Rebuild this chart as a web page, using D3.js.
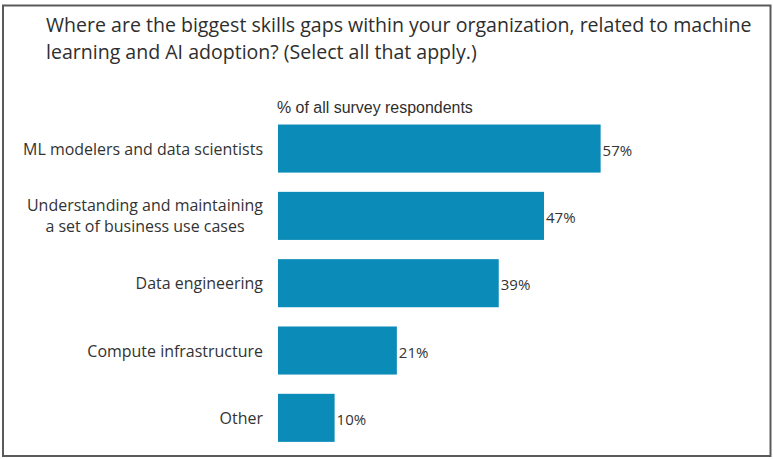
<!DOCTYPE html>
<html>
<head>
<meta charset="utf-8">
<script src="https://cdn.jsdelivr.net/npm/d3@7"></script>
<style>
  html, body { margin: 0; padding: 0; background: #fff; }
  svg { display: block; }
</style>
</head>
<body>
<svg id="chart" width="773" height="459"></svg>
<script>
// Survey results: skills gaps related to ML / AI adoption
const categories = [
  ["ML modelers and data scientists"],
  ["Understanding and maintaining", "a set of business use cases"],
  ["Data engineering"],
  ["Compute infrastructure"],
  ["Other"]
];
const values = [57, 47, 39, 21, 10];
const titleLines = [
  "Where are the biggest skills gaps within your organization, related to machine",
  "learning and AI adoption? (Select all that apply.)"
];
const axisCaption = "% of all survey respondents";

const barColor = "#0b8bb8";
const textColor = "#333333";
const svg = d3.select("#chart");

svg.append("rect")
  .attr("x", 3).attr("y", 5.5).attr("width", 767.5).attr("height", 450.5)
  .attr("fill", "#fff").attr("stroke", "#5a5a5a").attr("stroke-width", 2);

const ids = categories.map((c, i) => i);
const x = d3.scaleLinear().domain([0, 100]).range([278, 844]);
const y = d3.scaleBand().domain(ids).range([114.9, 451.5])
  .paddingInner(0.286).paddingOuter(0.143);

// Helper: scale font so a text element spans a target width
function fitText(sel, target, node) {
  const fs = parseFloat(sel.attr("font-size"));
  const w = (node || sel.node()).getComputedTextLength();
  if (w > 0) sel.attr("font-size", (fs * target / w).toFixed(2));
}

// Title: two lines
const title = svg.append("g")
  .attr("fill", "#2e2e2e")
  .attr("font-family", "'Open Sans', sans-serif");
const t0 = title.append("text").attr("x", 46).attr("y", 32.4)
  .attr("font-size", 19).text(titleLines[0]);
fitText(t0, 706);
const fsTitle = parseFloat(t0.attr("font-size"));
title.append("text").attr("x", 46).attr("y", 32.4 + fsTitle * 1.37)
  .attr("font-size", fsTitle).text(titleLines[1]);

// Axis caption
const cap = svg.append("text")
  .attr("x", 277).attr("y", 113.3)
  .attr("font-family", "'Liberation Sans', Arial, sans-serif")
  .attr("font-size", 14).attr("fill", "#2e2e2e").text(axisCaption);
fitText(cap, 196);

// Bars
svg.append("g").selectAll("rect").data(values).join("rect")
  .attr("x", x(0))
  .attr("y", (d, i) => y(i))
  .attr("width", d => x(d) - x(0))
  .attr("height", y.bandwidth())
  .attr("fill", barColor);

// Value labels
svg.append("g").selectAll("text").data(values).join("text")
  .attr("x", d => x(d) + 2)
  .attr("y", (d, i) => y(i) + y.bandwidth() / 2 + 1)
  .attr("dominant-baseline", "central")
  .attr("font-family", "'Open Sans', sans-serif")
  .attr("font-size", 15).attr("fill", textColor)
  .text(d => d + "%");

// Category labels: single lines right-aligned; multi-line blocks centred
// within their own width and the block right-aligned
const lab = svg.append("g")
  .attr("font-family", "'Open Sans', sans-serif")
  .attr("fill", textColor);
const probe = lab.append("text").attr("font-size", 15).text(categories[0][0]);
const fsLab = 15 * 240 / probe.node().getComputedTextLength();
probe.remove();
const rightEdge = 263, lh = 21;
categories.forEach((lines, i) => {
  const cy = y(i) + y.bandwidth() / 2;
  const t = lab.append("text").attr("font-size", fsLab);
  const sp = t.selectAll("tspan").data(lines).join("tspan")
    .attr("y", (d, j) => cy + (j - (lines.length - 1) / 2) * lh)
    .attr("dominant-baseline", "central")
    .text(d => d);
  const maxW = d3.max(sp.nodes().map(n => n.getComputedTextLength()));
  if (lines.length > 1) {
    sp.attr("x", rightEdge - maxW / 2).attr("text-anchor", "middle");
  } else {
    sp.attr("x", rightEdge).attr("text-anchor", "end");
  }
});
</script>
</body>
</html>
